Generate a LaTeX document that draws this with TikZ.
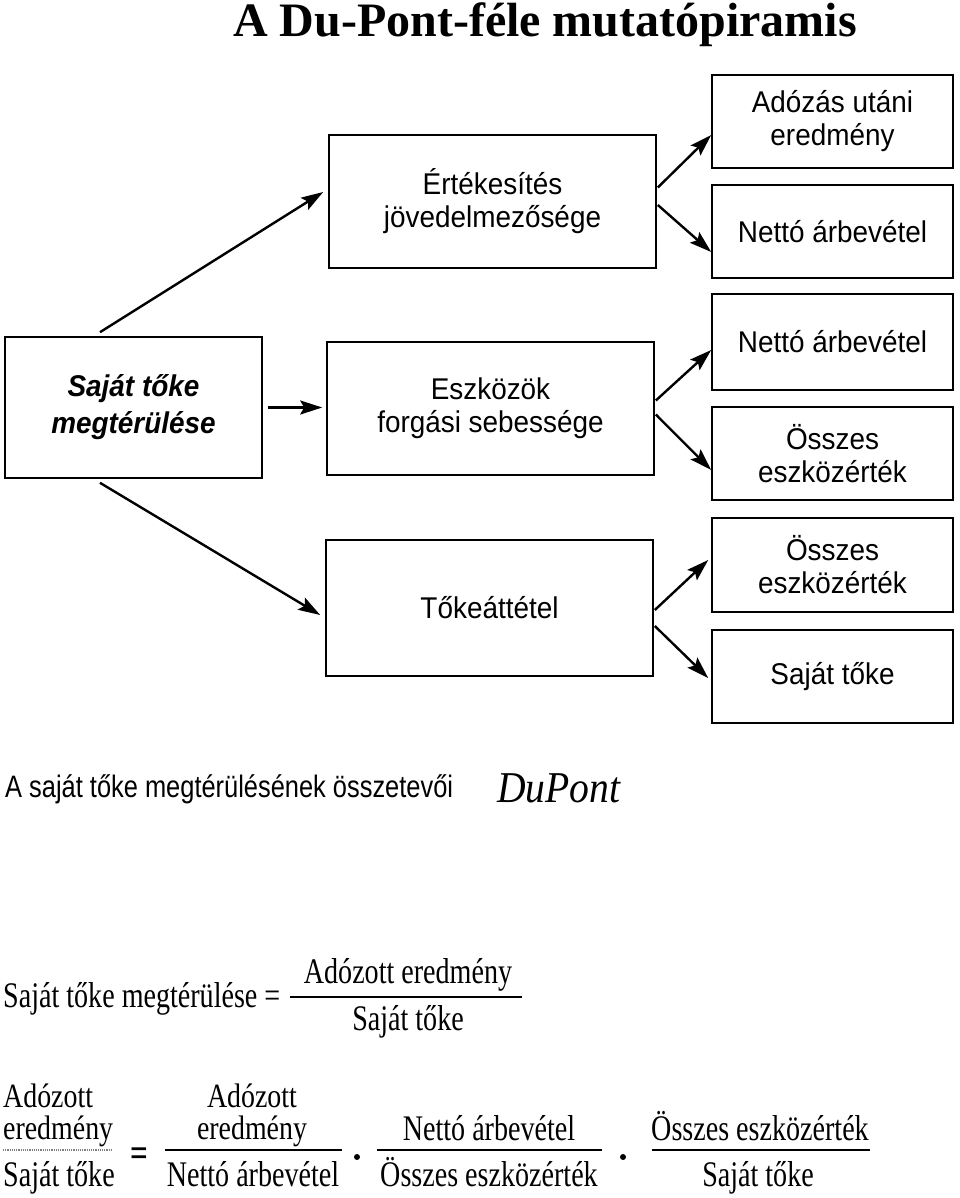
\documentclass[tikz,border=0pt]{standalone}
\usepackage{fontspec}
\setmainfont{Liberation Serif}
\setsansfont{Liberation Sans}
\newfontfamily\boxfont[FakeStretch=0.93]{Liberation Sans}
\newfontfamily\formfont[FakeStretch=0.78]{Liberation Serif}
\newfontfamily\formfontb[FakeStretch=0.82]{Liberation Serif}
\newfontfamily\capfont[FakeStretch=0.82]{Liberation Sans}
\newfontfamily\handfont[FakeStretch=0.9]{Liberation Serif}
\usetikzlibrary{arrows.meta}
\begin{document}
\begin{tikzpicture}[x=1pt,y=-1pt,
  box/.style={draw, line width=1.6pt, rectangle, inner sep=0pt, align=center,
    font=\boxfont\fontsize{30}{33}\selectfont},
  bigbox/.style={box, minimum width=327pt, minimum height=133pt},
  smallbox/.style={box, minimum width=241pt, minimum height=93pt},
  arr/.style={line width=2.4pt, -{Stealth[length=22pt,width=14pt,inset=4pt]}},
  ff/.style={font=\formfont\fontsize{36}{30}\selectfont, inner sep=0pt},
  ff2/.style={ff, font=\formfontb\fontsize{34}{32}\selectfont},
  fracline/.style={line width=1.8pt},
  muldot/.style={fill=black, circle, inner sep=0pt, minimum size=6pt}
]
\fill[white] (0,0) rectangle (960,1198);
\useasboundingbox (0,0) rectangle (960,1198);

% title
\node[anchor=base, inner sep=0pt, font=\bfseries\fontsize{48}{48}\selectfont] (title) at (545,37) {A Du-Pont-féle mutatópiramis};

% boxes
\node[box, minimum width=257pt, minimum height=141pt, font=\boxfont\bfseries\itshape\fontsize{30}{37}\selectfont] (ste) at (133.5,407.5) {Saját tőke\\megtérülése};
\node[bigbox] (ert) at (492.5,201.5) {Értékesítés\\jövedelmezősége};
\node[bigbox] (esz) at (490.5,408.5) {Eszközök\\forgási sebessége};
\node[bigbox, minimum height=136pt] (tok) at (489.5,608) {Tőkeáttétel};

\node[smallbox] (r1) at (832.5,121.5) {Adózás utáni\\eredmény};
\node[smallbox] (r2) at (832.5,231.5) {Nettó árbevétel};
\node[smallbox, minimum height=96pt] (r3) at (832.5,342) {Nettó árbevétel};
\node[smallbox] (r4) at (832.5,453.5) {Összes\\eszközérték};
\node[smallbox, minimum height=94pt] (r5) at (832.5,565) {Összes\\eszközérték};
\node[smallbox] (r6) at (832.5,676.5) {Saját tőke};

% arrows from left box
\draw[arr] ([xshift=-33.5pt,yshift=4pt]ste.north) -- ([xshift=-5pt,yshift=9.5pt]ert.west);
\draw[arr] ([xshift=5pt]ste.east) -- ([xshift=-4pt,yshift=1pt]esz.west);
\draw[arr] ([xshift=-33.5pt,yshift=-4pt]ste.south) -- ([xshift=-5pt,yshift=-7pt]tok.west);

% arrows to right column
\draw[arr] ([xshift=1pt,yshift=14pt]ert.east) -- ([yshift=-13.5pt]r1.west);
\draw[arr] ([xshift=1pt,yshift=-3.5pt]ert.east) -- ([yshift=-20.5pt]r2.west);
\draw[arr] ([xshift=1pt,yshift=8pt]esz.east) -- ([yshift=-8pt]r3.west);
\draw[arr] ([xshift=1pt,yshift=-6pt]esz.east) -- ([yshift=-16.5pt]r4.west);
\draw[arr] ([xshift=1pt,yshift=-2pt]tok.east) -- ([xshift=-3pt,yshift=5pt]r5.west);
\draw[arr] ([xshift=1pt,yshift=-18pt]tok.east) -- ([xshift=-3pt,yshift=-1.5pt]r6.west);

% caption
\node[anchor=base west, inner sep=0pt, font=\capfont\fontsize{31}{31}\selectfont] (cap) at (5,797) {A saját tőke megtérülésének összetevői};
\node[anchor=base west, inner sep=0pt, font=\handfont\itshape\fontsize{44}{44}\selectfont] (dp) at (497,802) {DuPont};

% formula 1
\node[ff, anchor=base west] (f1l) at (3,1007) {Saját tőke megtérülése =};
\draw[fracline] (290,997) -- (522,997);
\node[ff, anchor=base] (f1n) at (408,983) {Adózott eredmény};
\node[ff, anchor=base] (f1d) at (408,1030) {Saját tőke};

% formula 2
\node[ff2, anchor=base west, align=left] (a1) at (3,1139) {Adózott\\eredmény};
\draw[line width=1.2pt, gray, densely dotted] (3,1150) -- (112,1150);
\node[ff, anchor=base west] (a3) at (3,1186) {Saját tőke};
\node[ff, anchor=base, font=\formfont\bfseries\fontsize{40}{40}\selectfont] (eq) at (139,1166) {=};

\node[ff2, anchor=base, align=center] (b1) at (252,1139) {Adózott\\eredmény};
\draw[fracline] (165,1150) -- (342,1150);
\node[ff, anchor=base] (b3) at (253,1186) {Nettó árbevétel};
\node[muldot] (d1) at (357,1157) {};

\node[ff, anchor=base] (c1) at (489,1140) {Nettó árbevétel};
\draw[fracline] (377,1150) -- (602,1150);
\node[ff, anchor=base] (c2) at (489,1186) {Összes eszközérték};
\node[muldot] (d2) at (623,1157) {};

\node[ff, anchor=base] (e1) at (760,1140) {Összes eszközérték};
\draw[fracline] (652,1150) -- (870,1150);
\node[ff, anchor=base] (e2) at (758,1186) {Saját tőke};
\end{tikzpicture}
\end{document}
